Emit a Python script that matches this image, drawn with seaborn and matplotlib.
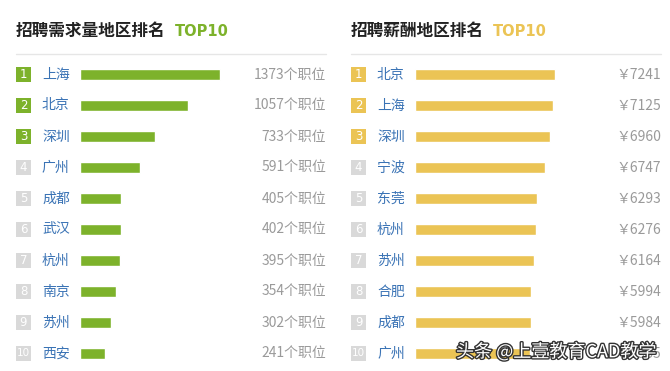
import matplotlib
matplotlib.use("Agg")
import matplotlib.pyplot as plt
import matplotlib.patheffects as pe
from matplotlib.patches import Rectangle
from matplotlib.transforms import blended_transform_factory
import pandas as pd
import seaborn as sns

# data
demand_cities = ["上海", "北京", "深圳", "广州", "成都", "武汉", "杭州", "南京", "苏州", "西安"]
demand_values = [1373, 1057, 733, 591, 405, 402, 395, 354, 302, 241]
salary_cities = ["北京", "上海", "深圳", "宁波", "东莞", "杭州", "苏州", "合肥", "成都", "广州"]
salary_values = [7241, 7125, 6960, 6747, 6293, 6276, 6164, 5994, 5984, 5935]

GREEN = "#7db22b"
YELLOW = "#ebc455"
GRAY_BADGE = "#d9d9d9"
CITY_BLUE = "#3a73b5"
VALUE_GRAY = "#9a9a9a"

sns.set_style("white")
plt.rcParams["font.family"] = ["Noto Sans CJK SC", "DejaVu Sans"]

W, H = 670, 371
fig = plt.figure(figsize=(W / 100, H / 100), dpi=100)
fig.patch.set_facecolor("white")


def draw_panel(left_px, title, cities, values, color, fmt):
    panel_w = 310
    bar_start = 64          # px from panel left to bar origin
    bar_max_px = 140        # px for the largest value
    scale = bar_max_px / max(values)
    top_px, row_h = 59, 31
    ax = fig.add_axes([left_px / W, 1 - (top_px + row_h * 10) / H,
                       panel_w / W, row_h * 10 / H])
    df = pd.DataFrame({"city": cities, "value": values})
    sns.barplot(data=df, x="value", y="city", color=color, width=0.33,
                saturation=1, ax=ax)
    ax.set_xlim(-bar_start / scale, (panel_w - bar_start) / scale)
    ax.set_ylim(9.5, -0.5)
    ax.axis("off")

    tr = blended_transform_factory(ax.transAxes, ax.transData)
    fx = lambda px: px / panel_w
    for i, (c, v) in enumerate(zip(cities, values)):
        badge = color if i < 3 else GRAY_BADGE
        ax.add_patch(Rectangle((0, i - 0.23), fx(15), 0.46, transform=tr,
                               facecolor=badge, edgecolor="none", clip_on=False))
        ax.text(fx(7.5), i, str(i + 1), transform=tr, ha="center", va="center",
                color="white", fontsize=8.5 if i < 9 else 7.5, family=["DejaVu Sans"])
        ax.text(fx(26), i, c, transform=tr, ha="left", va="center",
                color=CITY_BLUE, fontsize=10, fontweight="light")
        ax.text(1.0, i, fmt(v), transform=tr, ha="right", va="center",
                color=VALUE_GRAY, fontsize=10, fontweight="light")

    fig.text(left_px / W, 1 - 31 / H, title[0], ha="left", va="center",
             fontsize=12, fontweight="bold", color="#222222")
    fig.text((left_px + len(title[0]) * 16.5 + 10) / W, 1 - 31 / H, "TOP10",
             ha="left", va="center", fontsize=10.5, fontweight="bold",
             color=color, family=["DejaVu Sans"])
    fig.add_artist(plt.Line2D([left_px / W, (left_px + panel_w) / W],
                              [1 - 54 / H, 1 - 54 / H], color="#e6e6e6", lw=1))


draw_panel(16, ("招聘需求量地区排名",), demand_cities, demand_values, GREEN,
           lambda v: f"{v}个职位")
draw_panel(351, ("招聘薪酬地区排名",), salary_cities, salary_values, YELLOW,
           lambda v: f"￥{v}")

fig.text(456 / W, 1 - 352 / H, "头条 @上壹教育CAD教学", ha="left", va="center",
         fontsize=13, color="white",
         path_effects=[pe.withStroke(linewidth=2, foreground="#333333")])

fig.savefig("out.png", dpi=100, facecolor="white")
